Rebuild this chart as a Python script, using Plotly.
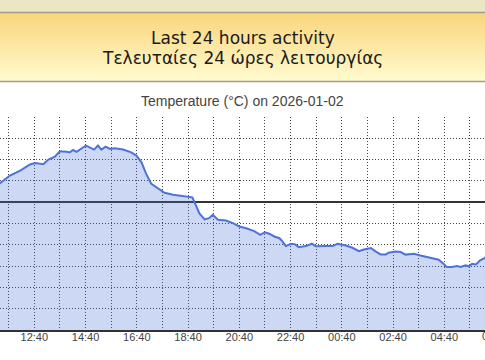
import plotly.graph_objects as go
import pandas as pd

# ---- data ----
times = [
    "2026-01-02 11:00", "2026-01-02 11:20", "2026-01-02 11:43", "2026-01-02 12:07", "2026-01-02 12:30",
    "2026-01-02 12:42", "2026-01-02 13:01", "2026-01-02 13:13", "2026-01-02 13:28", "2026-01-02 13:40",
    "2026-01-02 13:56", "2026-01-02 14:03", "2026-01-02 14:11", "2026-01-02 14:19", "2026-01-02 14:41",
    "2026-01-02 14:50", "2026-01-02 15:00", "2026-01-02 15:09", "2026-01-02 15:17", "2026-01-02 15:27",
    "2026-01-02 15:37", "2026-01-02 15:48", "2026-01-02 16:08", "2026-01-02 16:27", "2026-01-02 16:39",
    "2026-01-02 16:51", "2026-01-02 17:02", "2026-01-02 17:14", "2026-01-02 17:30", "2026-01-02 17:45",
    "2026-01-02 18:05", "2026-01-02 18:20", "2026-01-02 18:36", "2026-01-02 18:50", "2026-01-02 18:55",
    "2026-01-02 19:07", "2026-01-02 19:19", "2026-01-02 19:29", "2026-01-02 19:38", "2026-01-02 19:50",
    "2026-01-02 20:09", "2026-01-02 20:25", "2026-01-02 20:40", "2026-01-02 20:56", "2026-01-02 21:15",
    "2026-01-02 21:29", "2026-01-02 21:40", "2026-01-02 21:50", "2026-01-02 22:02", "2026-01-02 22:14",
    "2026-01-02 22:21", "2026-01-02 22:29", "2026-01-02 22:41", "2026-01-02 22:51", "2026-01-02 22:59",
    "2026-01-02 23:16", "2026-01-02 23:30", "2026-01-02 23:39", "2026-01-03 00:03", "2026-01-03 00:18",
    "2026-01-03 00:30", "2026-01-03 00:49", "2026-01-03 01:05", "2026-01-03 01:20", "2026-01-03 01:32",
    "2026-01-03 01:48", "2026-01-03 01:59", "2026-01-03 02:11", "2026-01-03 02:23", "2026-01-03 02:30",
    "2026-01-03 02:46", "2026-01-03 02:58", "2026-01-03 03:09", "2026-01-03 03:21", "2026-01-03 03:29",
    "2026-01-03 03:44", "2026-01-03 04:04", "2026-01-03 04:27", "2026-01-03 04:36", "2026-01-03 04:46",
    "2026-01-03 04:58", "2026-01-03 05:10", "2026-01-03 05:18", "2026-01-03 05:30", "2026-01-03 05:37",
    "2026-01-03 05:45", "2026-01-03 05:54", "2026-01-03 06:04", "2026-01-03 06:12", "2026-01-03 06:20",
]
temps = [
    0.70, 0.89, 1.25, 1.48, 1.77,
    1.84, 1.78, 2.00, 2.14, 2.39,
    2.37, 2.34, 2.45, 2.36, 2.66,
    2.58, 2.47, 2.66, 2.47, 2.61,
    2.50, 2.53, 2.47, 2.34, 2.19,
    1.87, 1.33, 0.86, 0.63, 0.44,
    0.35, 0.31, 0.27, 0.23, 0.00,
    -0.54, -0.81, -0.75, -0.59, -0.82,
    -0.86, -0.98, -1.14, -1.22, -1.36,
    -1.53, -1.41, -1.48, -1.61, -1.69,
    -1.84, -2.06, -1.95, -1.98, -2.11,
    -2.06, -1.95, -2.07, -2.06, -2.06,
    -1.95, -2.03, -2.14, -2.30, -2.22,
    -2.15, -2.31, -2.45, -2.45, -2.37,
    -2.31, -2.34, -2.46, -2.45, -2.42,
    -2.50, -2.59, -2.70, -2.86, -3.04,
    -3.04, -3.00, -3.04, -2.96, -3.01,
    -2.89, -2.92, -2.73, -2.65, -2.55,
]
y_min, y_max = -6, 4
x_range = ["2026-01-02 11:19:40", "2026-01-03 06:15:20"]
edge_tick = "2026-01-03 06:40"   # tick whose label is cut by the right edge
chart_title = "Temperature (°C) on 2026-01-02"
header_lines = ["Last 24 hours activity", "Τελευταίες 24 ώρες λειτουργίας"]

W, H = 485, 360
PLOT_TOP, PLOT_BOT = 117, 330


def py(y):
    return (PLOT_BOT - y) / (PLOT_BOT - PLOT_TOP)


fig = go.Figure()
# baseline for the filled area (axis minimum)
fig.add_trace(go.Scatter(x=times, y=[y_min] * len(times), mode="lines",
                         line=dict(width=0), hoverinfo="skip", showlegend=False))
fig.add_trace(go.Scatter(x=times, y=temps, mode="lines", fill="tonexty",
                         fillcolor="rgba(70,110,215,0.27)",
                         line=dict(color="rgb(78,115,215)", width=2),
                         showlegend=False))

shapes = []
# header background
shapes.append(dict(type="rect", xref="paper", yref="paper", x0=0, x1=1,
                   y0=py(12), y1=py(0), fillcolor="#ebe7c4", line=dict(width=0), layer="below"))
c0 = (249, 214, 126)
c1 = (255, 250, 206)
n = 34
for i in range(n):
    t = i / (n - 1)
    col = tuple(round(c0[k] + (c1[k] - c0[k]) * t) for k in range(3))
    ya = 13 + i * 2
    shapes.append(dict(type="rect", xref="paper", yref="paper", x0=0, x1=1,
                       y0=py(ya + 2.2), y1=py(ya), fillcolor="rgb(%d,%d,%d)" % col,
                       line=dict(width=0), layer="below"))
for yl in (12.5, 81.5):
    shapes.append(dict(type="line", xref="paper", yref="paper", x0=0, x1=1,
                       y0=py(yl), y1=py(yl), line=dict(color="#a09b85", width=1.5)))

r0, r1 = pd.Timestamp(x_range[0]), pd.Timestamp(x_range[1])
edge_frac = (pd.Timestamp(edge_tick) - r0) / (r1 - r0)

tick_font = dict(family="Liberation Sans, Arial", size=11, color="#444444")
annotations = [
    dict(text=header_lines[0], x=0.5, y=py(38), xref="paper", yref="paper",
         showarrow=False, xanchor="center", yanchor="middle",
         font=dict(family="DejaVu Sans", size=17, color="#1a1a1a")),
    dict(text=header_lines[1], x=0.5, y=py(58), xref="paper", yref="paper",
         showarrow=False, xanchor="center", yanchor="middle",
         font=dict(family="DejaVu Sans", size=17, color="#1a1a1a")),
    dict(text=chart_title, x=0.5, y=py(101), xref="paper", yref="paper",
         showarrow=False, xanchor="center", yanchor="middle",
         font=dict(family="Liberation Sans, Arial", size=14, color="#444444")),
    dict(text=pd.Timestamp(edge_tick).strftime("%H:%M"), x=edge_frac, y=py(336),
         xref="paper", yref="paper", showarrow=False, xanchor="center",
         yanchor="middle", font=tick_font),
]

fig.update_layout(
    width=W, height=H,
    margin=dict(l=0, r=0, t=PLOT_TOP, b=H - PLOT_BOT, pad=0),
    paper_bgcolor="white", plot_bgcolor="white",
    shapes=shapes, annotations=annotations,
    showlegend=False,
    xaxis=dict(
        type="date",
        range=x_range,
        tick0="2026-01-02 12:40", dtick=7200000, tickformat="%H:%M",
        showgrid=True, gridcolor="#444444", gridwidth=1, griddash="1px,2px",
        minor=dict(dtick=3600000, tick0="2026-01-02 11:40", showgrid=True,
                   gridcolor="#444444", gridwidth=1, griddash="1px,2px"),
        showline=True, linecolor="#333333", linewidth=1.5,
        ticks="", tickfont=tick_font, ticklabelstandoff=-4,
        zeroline=False, fixedrange=True,
    ),
    yaxis=dict(
        range=[y_min, y_max], dtick=1, tick0=0,
        showgrid=True, gridcolor="#444444", gridwidth=1, griddash="1px,2px",
        zeroline=True, zerolinecolor="#333333", zerolinewidth=1.5,
        showticklabels=False, ticks="", showline=False, fixedrange=True,
    ),
)

fig.write_html("out.html")
